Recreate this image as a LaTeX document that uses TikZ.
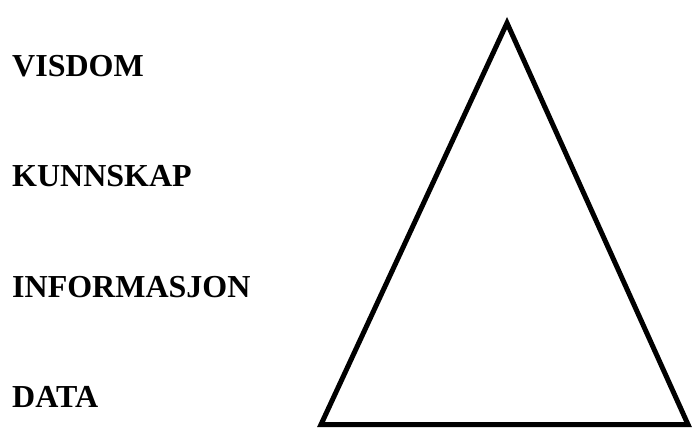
\documentclass[tikz,border=0pt]{standalone}
\usepackage{fontspec}
\setmainfont{Liberation Serif}
\usetikzlibrary{positioning}

\tikzset{
  level/.style={anchor=base west, inner sep=0pt, font=\fontsize{32}{38}\selectfont\bfseries},
}

\begin{document}
\begin{tikzpicture}[x=1pt, y=-1pt]
            % ==== DEFINITIONS ====
            \def\labelX{12} % left edge of the labels
            \def\baseY{407} % baseline of the lowest label

            \useasboundingbox (0,0) rectangle (692,428);

            % ==== LABELS ====
            \node[level] (data) at (\labelX,\baseY) {DATA};
            \node[level] (informasjon) at (\labelX,297) {INFORMASJON};
            \node[level] (kunnskap) at (\labelX,186.5) {KUNNSKAP};
            \node[level] (visdom) at (\labelX,76) {VISDOM};

            % ==== PYRAMID ====
            \coordinate (top) at (507,23);
            \coordinate (left) at (321,424.5);
            \coordinate (right) at (688,424.5);
            \draw[line width=5pt] (top) -- (left) -- (right) -- cycle;

        \end{tikzpicture}
\end{document}
